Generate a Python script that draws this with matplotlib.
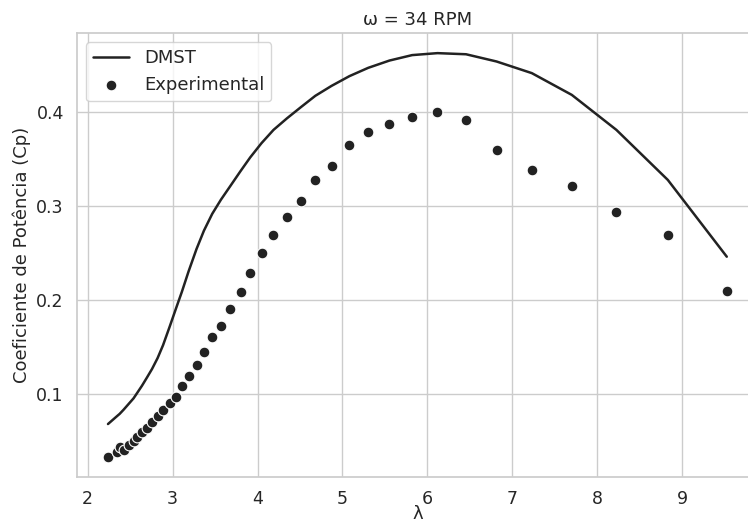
import matplotlib
matplotlib.use("Agg")
import matplotlib.pyplot as plt
import seaborn as sns

# lambda (tip speed ratio) dos ensaios
lam = [2.240, 2.346, 2.377, 2.424, 2.482, 2.541, 2.581, 2.640, 2.699, 2.758,
       2.824, 2.888, 2.965, 3.038, 3.110, 3.188, 3.282, 3.369, 3.467, 3.569,
       3.679, 3.800, 3.914, 4.047, 4.188, 4.346, 4.514, 4.680, 4.871, 5.082,
       5.302, 5.553, 5.820, 6.118, 6.454, 6.813, 7.228, 7.699, 8.224, 8.829,
       9.523]
# Cp experimental
cp_exp = [0.0326, 0.0380, 0.0433, 0.0398, 0.0451, 0.0497, 0.0539, 0.0593, 0.0629, 0.0699,
          0.0760, 0.0824, 0.0899, 0.0968, 0.1083, 0.1187, 0.1304, 0.1439, 0.1604, 0.1716,
          0.1906, 0.2080, 0.2288, 0.2498, 0.2690, 0.2885, 0.3055, 0.3273, 0.3425, 0.3652,
          0.3791, 0.3873, 0.3948, 0.4001, 0.3913, 0.3594, 0.3386, 0.3212, 0.2938, 0.2690,
          0.2090]
# Cp DMST
cp_dmst = [0.0675, 0.0759, 0.0783, 0.0828, 0.0888, 0.0949, 0.1003, 0.1083, 0.1171, 0.1261,
           0.1378, 0.1515, 0.1710, 0.1900, 0.2085, 0.2300, 0.2540, 0.2735, 0.2915, 0.3065,
           0.3210, 0.3370, 0.3516, 0.3668, 0.3809, 0.3932, 0.4054, 0.4172, 0.4278, 0.4382,
           0.4470, 0.4548, 0.4606, 0.4627, 0.4615, 0.4538, 0.4414, 0.4182, 0.3809, 0.3276,
           0.2458]

sns.set_theme(style="whitegrid")
plt.rcParams['font.family'] = ['DejaVu Sans']

fig = plt.figure(figsize=(7.48, 5.23), dpi=100)
ax = fig.add_axes([0.103, 0.088, 0.910, 0.849])

ax.plot(lam, cp_dmst, color="#222222", lw=1.8, label="DMST")
ax.scatter(lam, cp_exp, color="#222222", s=60, edgecolor="white", linewidth=0.8,
           label="Experimental", zorder=3)

ax.set_title("ω = 34 RPM", fontsize=13)
ax.set_xlabel("λ", fontsize=13, labelpad=-2)
ax.set_ylabel("Coeficiente de Potência (Cp)", fontsize=13)
ax.tick_params(labelsize=12.5)
ax.set_yticks([0.1, 0.2, 0.3, 0.4])
ax.legend(loc="upper left", fontsize=13)

fig.savefig("out.png", dpi=100)
